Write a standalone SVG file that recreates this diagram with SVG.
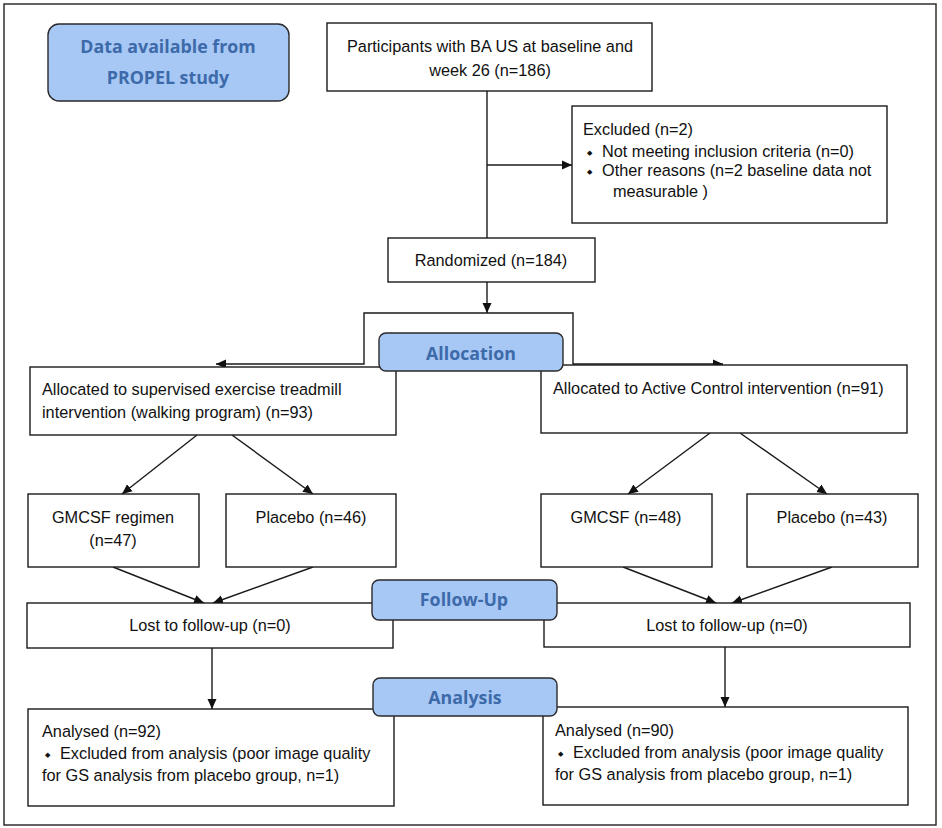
<svg xmlns="http://www.w3.org/2000/svg" width="942" height="828" viewBox="0 0 942 828">
<style>
.box{fill:#fff;stroke:#1a1a1a;stroke-width:1.4}
.lbl{fill:#a7c7f5;stroke:#2a2a2a;stroke-width:1.4}
.t{font-family:"Liberation Sans",Arial,sans-serif;font-size:16.3px;fill:#111}
.c{text-anchor:middle}
.b{font-family:"Open Sans","DejaVu Sans",sans-serif;font-weight:bold;font-size:17.8px;fill:#3d6aa9;text-anchor:middle}
.bul{font-family:"DejaVu Sans",sans-serif;font-size:7px;fill:#111}
.ln{fill:none;stroke:#1a1a1a;stroke-width:1.4}
</style>
<defs>
<marker id="ah" markerUnits="userSpaceOnUse" markerWidth="11" markerHeight="11" refX="10" refY="5" orient="auto">
<path d="M0,0.5 L10,5 L0,9.5 z" fill="#111"/>
</marker>
</defs>
<rect x="0" y="0" width="942" height="828" fill="#fff"/>
<rect x="4" y="4" width="932" height="821" fill="none" stroke="#222" stroke-width="1.4"/>

<g id="connectors">
<path class="ln" d="M487,91 L487,238"/>
<path class="ln" d="M487,165 L572,165" marker-end="url(#ah)"/>
<path class="ln" d="M487,282 L487,313" marker-end="url(#ah)"/>
<path class="ln" d="M487,313 L364,313 L364,364 L216,364" marker-end="url(#ah)"/>
<path class="ln" d="M487,313 L573,313 L573,364 L723,364" marker-end="url(#ah)"/>
<path class="ln" d="M197,435 L122,494" marker-end="url(#ah)"/>
<path class="ln" d="M232,435 L313,494" marker-end="url(#ah)"/>
<path class="ln" d="M710,433 L628,494" marker-end="url(#ah)"/>
<path class="ln" d="M740,433 L827,494" marker-end="url(#ah)"/>
<path class="ln" d="M113,567 L204,603" marker-end="url(#ah)"/>
<path class="ln" d="M313,567 L213,603" marker-end="url(#ah)"/>
<path class="ln" d="M623,567 L716,603" marker-end="url(#ah)"/>
<path class="ln" d="M832,567 L732,603" marker-end="url(#ah)"/>
<path class="ln" d="M212,648 L212,709" marker-end="url(#ah)"/>
<path class="ln" d="M725,647 L725,707" marker-end="url(#ah)"/>
</g>

<g id="participants">
<rect class="box" x="327" y="23" width="325" height="68"/>
<text class="t c" x="490" y="52">Participants with BA US at baseline and</text>
<text class="t c" x="490" y="76">week 26 (n=186)</text>
</g>

<g id="excluded">
<rect class="box" x="572" y="106" width="315" height="117"/>
<text class="t" x="583" y="135">Excluded (n=2)</text>
<text class="bul" x="587" y="155">◆</text>
<text class="t" x="602" y="157">Not meeting inclusion criteria (n=0)</text>
<text class="bul" x="587" y="174">◆</text>
<text class="t" x="602" y="176">Other reasons (n=2 baseline data not</text>
<text class="t" x="613" y="197">measurable )</text>
</g>

<g id="randomized">
<rect class="box" x="388" y="238" width="207" height="44"/>
<text class="t c" x="491" y="266">Randomized (n=184)</text>
</g>

<g id="alloc-left">
<rect class="box" x="30" y="367" width="366" height="68"/>
<text class="t" x="42" y="395">Allocated to supervised exercise treadmill</text>
<text class="t" x="42" y="418">intervention (walking program) (n=93)</text>
</g>

<g id="alloc-right">
<rect class="box" x="541" y="365" width="366" height="68"/>
<text class="t" x="553" y="394">Allocated to Active Control intervention (n=91)</text>
</g>

<g id="gmcsf-left">
<rect class="box" x="28" y="494" width="171" height="73"/>
<text class="t c" x="113" y="523">GMCSF regimen</text>
<text class="t c" x="113" y="546">(n=47)</text>
</g>

<g id="placebo-left">
<rect class="box" x="226" y="494" width="170" height="73"/>
<text class="t c" x="311" y="523">Placebo (n=46)</text>
</g>

<g id="gmcsf-right">
<rect class="box" x="541" y="494" width="171" height="73"/>
<text class="t c" x="626" y="523">GMCSF (n=48)</text>
</g>

<g id="placebo-right">
<rect class="box" x="747" y="494" width="171" height="73"/>
<text class="t c" x="832" y="523">Placebo (n=43)</text>
</g>

<g id="lost-left">
<rect class="box" x="27" y="603" width="366" height="45"/>
<text class="t c" x="210" y="631">Lost to follow-up (n=0)</text>
</g>

<g id="lost-right">
<rect class="box" x="544" y="603" width="366" height="44"/>
<text class="t c" x="727" y="631">Lost to follow-up (n=0)</text>
</g>

<g id="analysed-left">
<rect class="box" x="28" y="709" width="366" height="97"/>
<text class="t" x="42" y="737">Analysed (n=92)</text>
<text class="bul" x="45" y="757">◆</text>
<text class="t" x="60" y="759">Excluded from analysis (poor image quality</text>
<text class="t" x="42" y="781">for GS analysis from placebo group, n=1)</text>
</g>

<g id="analysed-right">
<rect class="box" x="543" y="707" width="365" height="98"/>
<text class="t" x="555" y="736">Analysed (n=90)</text>
<text class="bul" x="558" y="756">◆</text>
<text class="t" x="573" y="758">Excluded from analysis (poor image quality</text>
<text class="t" x="555" y="780">for GS analysis from placebo group, n=1)</text>
</g>

<g id="data-available">
<rect class="lbl" x="48" y="24" width="241" height="77" rx="11"/>
<text class="b" x="168" y="53">Data available from</text>
<text class="b" x="168" y="84">PROPEL study</text>
</g>

<g id="allocation">
<rect class="lbl" x="379" y="333" width="184" height="38" rx="7"/>
<text class="b" x="471" y="360">Allocation</text>
</g>

<g id="follow-up">
<rect class="lbl" x="372" y="580" width="185" height="40" rx="7"/>
<text class="b" x="464" y="606">Follow-Up</text>
</g>

<g id="analysis">
<rect class="lbl" x="373" y="678" width="184" height="38" rx="7"/>
<text class="b" x="465" y="704">Analysis</text>
</g>
</svg>
